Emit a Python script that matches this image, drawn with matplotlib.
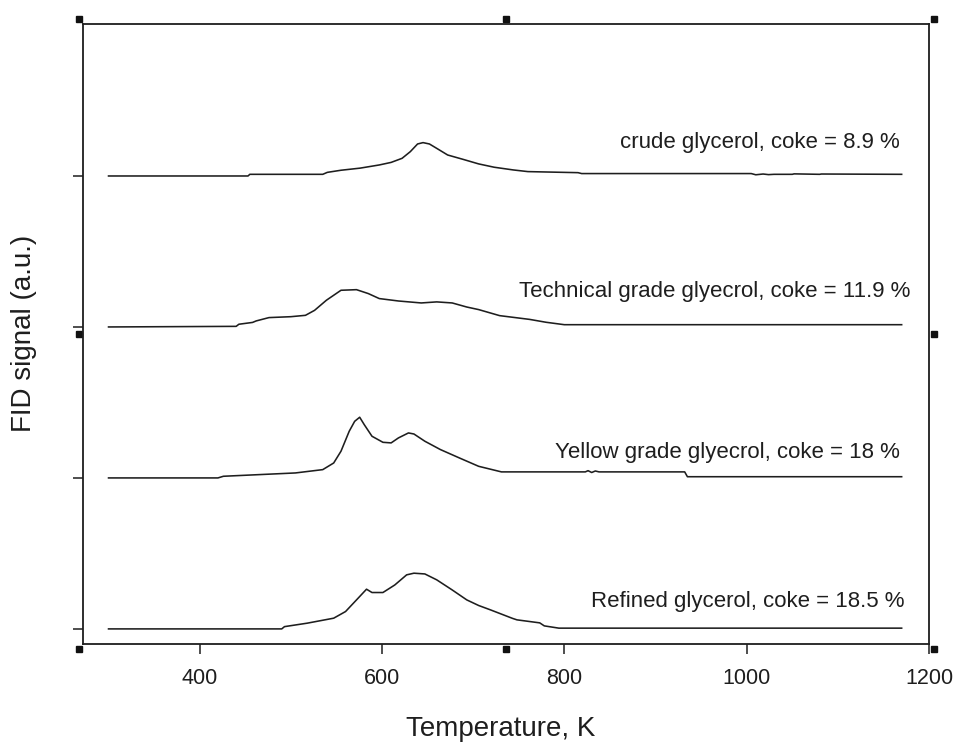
import numpy as np
import matplotlib
matplotlib.use("Agg")
import matplotlib.pyplot as plt

plt.rcParams['font.family'] = ['Liberation Sans', 'DejaVu Sans']

# TPO profiles, temperature (K) and FID signal (a.u.) above each baseline
T_crude = [300, 453, 455, 535, 540, 555, 576, 597, 610, 622, 631, 639, 645, 652, 660, 672,
           689, 706, 723, 744, 760, 815, 819, 1005, 1010, 1018, 1024, 1030, 1050, 1052,
           1080, 1082, 1170]
S_crude = [0, 0, 0.011, 0.011, 0.024, 0.038, 0.052, 0.073, 0.09, 0.117, 0.161, 0.212, 0.221,
           0.212, 0.183, 0.139, 0.11, 0.08, 0.058, 0.04, 0.029, 0.022, 0.016, 0.016, 0.008,
           0.013, 0.009, 0.011, 0.011, 0.014, 0.011, 0.013, 0.011]

T_tech = [300, 440, 443, 458, 462, 476, 500, 516, 526, 539, 555, 572, 585, 597, 618, 643,
          660, 677, 693, 706, 729, 762, 780, 800, 1170]
S_tech = [0, 0.004, 0.018, 0.03, 0.04, 0.062, 0.068, 0.077, 0.11, 0.177, 0.243, 0.247,
          0.221, 0.188, 0.172, 0.159, 0.166, 0.159, 0.132, 0.115, 0.075, 0.05, 0.031, 0.015,
          0.015]

T_yellow = [300, 420, 426, 505, 535, 547, 555, 564, 570, 575.5, 580.5, 589, 601, 610, 618,
            629, 635, 647, 664, 685, 706, 731, 823, 826, 830, 834, 838, 932, 935, 1170]
S_yellow = [0, 0, 0.011, 0.033, 0.055, 0.099, 0.177, 0.309, 0.375, 0.402, 0.353, 0.276,
            0.236, 0.232, 0.265, 0.298, 0.291, 0.243, 0.188, 0.132, 0.077, 0.04, 0.04, 0.048,
            0.036, 0.046, 0.04, 0.04, 0.008, 0.008]

T_refined = [300, 490, 493, 518, 547, 560, 572, 583, 589, 601, 614, 627, 635, 647, 660, 677,
             693, 706, 719, 743, 748, 773, 778, 794, 1170]
S_refined = [0, 0, 0.015, 0.038, 0.071, 0.115, 0.192, 0.263, 0.241, 0.241, 0.291, 0.358,
             0.369, 0.364, 0.325, 0.258, 0.192, 0.155, 0.126, 0.07, 0.06, 0.04, 0.02, 0.005,
             0.005]

labels = ["crude glycerol, coke = 8.9 %",
          "Technical grade glyecrol, coke = 11.9 %",
          "Yellow grade glyecrol, coke = 18 %",
          "Refined glycerol, coke = 18.5 %"]
offsets = [3, 2, 1, 0]
label_x = [1168, 1180, 1168, 1173]
label_y = [0.225, 0.232, 0.166, 0.179]

curves = [(T_crude, S_crude), (T_tech, S_tech), (T_yellow, S_yellow), (T_refined, S_refined)]

ink = '#1e1e1e'
fig = plt.figure(figsize=(9.55, 7.42), dpi=100)
ax = fig.add_axes([83/955, 1 - 644/742, (929 - 83)/955, (644 - 23.5)/742])

for (t, s), off, lab, lx, ly in zip(curves, offsets, labels, label_x, label_y):
    ax.plot(t, np.array(s) + off, color=ink, lw=1.15)
    ax.text(lx, off + ly, lab, ha='right', va='center', fontsize=16, color=ink)

ax.set_xlim(272, 1200)
ax.set_ylim(-0.1, 4.01)
ax.set_xticks([400, 600, 800, 1000, 1200])
ax.set_yticks([0, 1, 2, 3])
ax.set_yticklabels([])
ax.tick_params(axis='both', direction='out', length=7, width=1.1, color=ink,
               labelsize=15.5, labelcolor=ink)
ax.tick_params(axis='x', pad=10)
for sp in ax.spines.values():
    sp.set_linewidth(1.3)
    sp.set_color(ink)

ax.set_xlabel("Temperature, K", fontsize=20, color=ink, va='center')
ax.xaxis.set_label_coords(0.494, -0.137)
ax.set_ylabel("FID signal (a.u.)", fontsize=20, color=ink, va='center')
ax.yaxis.set_label_coords(-0.07, 0.5)

# little square handles around the plot frame
dx, dy = 4.5/846, 4.5/620
hx = [-dx, 0.5, 1 + dx, -dx, 1 + dx, -dx, 0.5, 1 + dx]
hy = [-dy, -dy, -dy, 0.5, 0.5, 1 + dy, 1 + dy, 1 + dy]
ax.plot(hx, hy, 's', color='#111111', ms=5, transform=ax.transAxes, clip_on=False)

fig.savefig('out.png', dpi=100)
